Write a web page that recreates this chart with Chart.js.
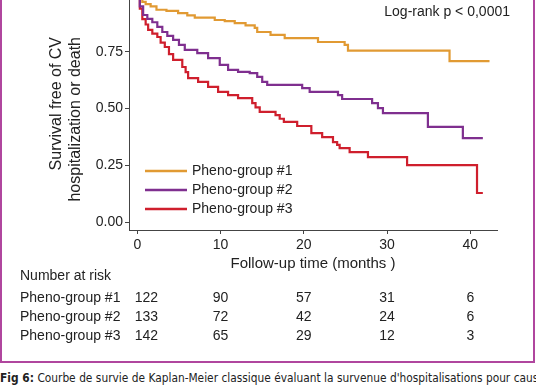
<!DOCTYPE html>
<html>
<head>
<meta charset="utf-8">
<script src="https://cdn.jsdelivr.net/npm/chart.js@4.4.0/dist/chart.umd.min.js"></script>
<style>
  html, body { margin: 0; padding: 0; background: #fff; overflow: hidden; }
  body { width: 536px; height: 386px; position: relative; font-family: "Liberation Sans", Arial, sans-serif; }
  #frame { position: absolute; left: 0; top: -10px; width: 535px; height: 373px; border: 2px solid #b0469e; box-sizing: border-box; }
  #wrap { position: absolute; left: 0; top: 0; width: 536px; height: 362px; }
  #caption { position: absolute; left: 0; top: 372px; width: 540px; font-family: "DejaVu Sans Condensed", "Liberation Sans", sans-serif; font-size: 11.8px; line-height: 13px; color: #222; white-space: nowrap; word-spacing: 0.1px; }
</style>
</head>
<body>
<div id="frame"></div>
<div id="wrap"><canvas id="km" width="536" height="362"></canvas></div>
<div id="caption"><b>Fig 6:</b> Courbe de survie de Kaplan-Meier classique évaluant la survenue d'hospitalisations pour cause</div>
<script>
const groupNames = ["Pheno-group #1", "Pheno-group #2", "Pheno-group #3"];
const groupColors = ["#e19a33", "#7f2f8f", "#cf1f2d"];
const xTicks = [0, 10, 20, 30, 40];
const yTicks = [0, 0.25, 0.5, 0.75];
const yTitle = ["Survival free of CV", "hospitalization or death"];

// survival curves (time in months, survival fraction after each step)
const g1Time = [0, 0.3, 0.6, 1.0, 1.6, 2.3, 3.5, 4.9, 6.0, 6.9, 9.3, 10.5, 11.7, 13.0, 14.1, 14.4, 16.0, 17.7, 21.7, 24.9, 25.3, 37.5, 42.3];
const g1Surv = [1.0, 0.985, 0.97, 0.96, 0.95, 0.935, 0.93, 0.92, 0.91, 0.9, 0.89, 0.885, 0.876, 0.866, 0.855, 0.837, 0.824, 0.81, 0.793, 0.78, 0.755, 0.709, 0.709];

const g2Time = [0, 0.3, 0.7, 1.2, 1.8, 2.4, 3.0, 3.6, 4.3, 5.0, 5.7, 7.2, 8.5, 9.9, 10.9, 12.1, 13.5, 14.4, 15.0, 15.6, 19.8, 20.7, 24.1, 24.6, 28.2, 28.9, 29.5, 34.9, 39.1, 41.5];
const g2Surv = [1.0, 0.95, 0.912, 0.895, 0.88, 0.86, 0.837, 0.82, 0.802, 0.78, 0.758, 0.744, 0.722, 0.692, 0.67, 0.661, 0.656, 0.639, 0.617, 0.604, 0.59, 0.573, 0.559, 0.542, 0.524, 0.502, 0.48, 0.419, 0.37, 0.37];

const g3Time = [0, 0.3, 0.6, 1.0, 1.3, 1.8, 2.4, 2.8, 3.3, 3.8, 4.3, 5.4, 5.8, 6.1, 7.3, 8.5, 9.7, 10.9, 12.1, 13.8, 14.2, 14.7, 16.6, 17.1, 17.6, 19.2, 20.9, 22.2, 23.5, 24.0, 24.3, 25.5, 27.7, 32.4, 40.8, 41.5];
const g3Surv = [1.0, 0.94, 0.894, 0.87, 0.846, 0.83, 0.815, 0.79, 0.771, 0.74, 0.714, 0.683, 0.66, 0.634, 0.617, 0.595, 0.573, 0.559, 0.546, 0.524, 0.505, 0.485, 0.471, 0.455, 0.441, 0.423, 0.392, 0.374, 0.352, 0.34, 0.326, 0.308, 0.286, 0.251, 0.128, 0.128];

// number at risk
const riskTimes = [0, 10, 20, 30, 40];
const risk1 = [122, 90, 57, 31, 6];
const risk2 = [133, 72, 42, 24, 6];
const risk3 = [142, 65, 29, 12, 3];

const textColor = "#222";
const family = "'Liberation Sans', Arial, sans-serif";

const toPoints = (times, surv) => times.map((t, i) => ({ x: t, y: surv[i] }));

//draws the y title, inner legend, log-rank text and the risk table
const overlay = {
  id: "overlay",
  afterDraw(chart) {
    const ctx = chart.ctx;
    const area = chart.chartArea;
    const xs = chart.scales.x;
    ctx.save();
    ctx.fillStyle = textColor;
    ctx.textBaseline = "middle";

    // y title, both lines end at the same height
    ctx.font = "16px " + family;
    ctx.textAlign = "right";
    yTitle.forEach((line, i) => {
      ctx.save();
      ctx.translate(57 + i * 19, 37);
      ctx.rotate(-Math.PI / 2);
      ctx.fillText(line, 0, 0);
      ctx.restore();
    });

    ctx.font = "14px " + family;
    ctx.fillText("Log-rank p < 0,0001", area.right + 13, 12);

    ctx.textAlign = "left";
    groupNames.forEach((name, i) => {
      const y = area.top + 171 + i * 19;
      ctx.strokeStyle = groupColors[i];
      ctx.lineWidth = 2.5;
      ctx.beginPath();
      ctx.moveTo(area.left + 16, y);
      ctx.lineTo(area.left + 58, y);
      ctx.stroke();
      ctx.fillText(name, area.left + 63, y);
    });

    ctx.fillText("Number at risk", 20, 276);
    const rows = [risk1, risk2, risk3];
    rows.forEach((row, r) => {
      const y = 298 + r * 19;
      ctx.textAlign = "left";
      ctx.fillText(groupNames[r], 20, y);
      ctx.textAlign = "center";
      row.forEach((v, i) => {
        let x = xs.getPixelForValue(riskTimes[i]);
        if (i === 0) x += 9;
        ctx.fillText(String(v), x, y);
      });
    });
    ctx.restore();
  },
};

const axisGrid = {
  display: true,
  drawOnChartArea: false,
  drawTicks: true,
  tickLength: 4,
  color: "#444",
};

new Chart(document.getElementById("km"), {
  type: "line",
  data: {
    datasets: [
      { label: groupNames[0], data: toPoints(g1Time, g1Surv), borderColor: groupColors[0] },
      { label: groupNames[1], data: toPoints(g2Time, g2Surv), borderColor: groupColors[1] },
      { label: groupNames[2], data: toPoints(g3Time, g3Surv), borderColor: groupColors[2] },
    ],
  },
  options: {
    responsive: false,
    animation: false,
    layout: { padding: { left: 0, right: 39, top: 0, bottom: 89 } },
    elements: {
      point: { radius: 0 },
      line: { borderWidth: 2.2, stepped: "before", fill: false },
    },
    plugins: {
      legend: { display: false },
      tooltip: { enabled: false },
    },
    scales: {
      x: {
        type: "linear",
        min: -1,
        max: 43.2,
        afterBuildTicks: (s) => { s.ticks = xTicks.map((v) => ({ value: v })); },
        afterFit: (s) => {
          s.height = 43;
          s.paddingLeft = 0;
          s.paddingRight = 0;
        },
        grid: axisGrid,
        border: { display: true, color: "#444", width: 1 },
        ticks: { color: textColor, font: { size: 14, family: family }, padding: 3, maxRotation: 0 },
        title: {
          display: true,
          text: "Follow-up time (months )",
          color: textColor,
          font: { size: 15, family: family },
          padding: { top: 4, bottom: 0 },
        },
      },
      y: {
        min: -0.035,
        max: 0.978,
        afterBuildTicks: (s) => { s.ticks = yTicks.map((v) => ({ value: v })); },
        afterFit: (s) => {
          s.width = 129;
          s.paddingTop = 0;
          s.paddingBottom = 0;
        },
        grid: axisGrid,
        border: { display: true, color: "#444", width: 1 },
        ticks: {
          color: textColor,
          font: { size: 14, family: family },
          padding: 2,
          callback: (v) => Number(v).toFixed(2),
        },
      },
    },
  },
  plugins: [overlay],
});
</script>
</body>
</html>
